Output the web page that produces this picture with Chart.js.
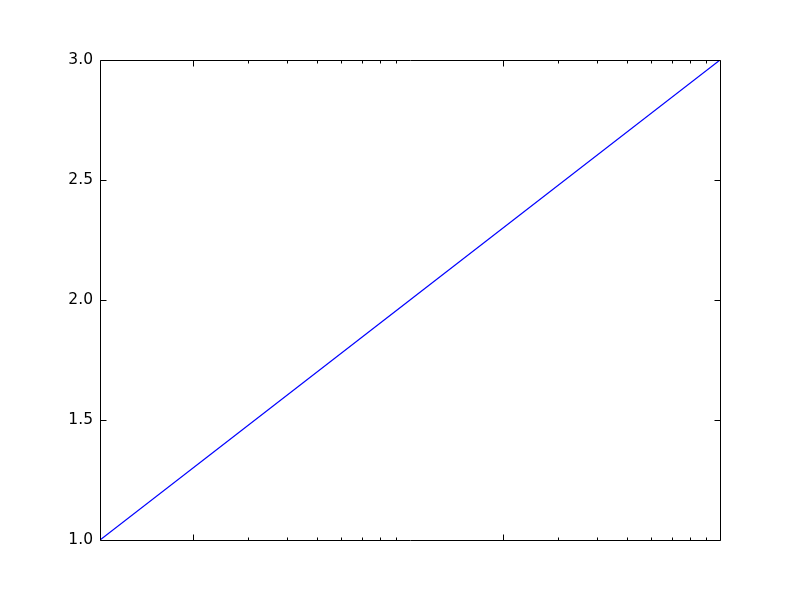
<!DOCTYPE html>
<html>
<head>
<meta charset="utf-8">
<script src="https://cdn.jsdelivr.net/npm/chart.js@4"></script>
<style>
html,body{margin:0;padding:0;background:#fff;}
canvas{display:block;}
</style>
</head>
<body>
<canvas id="c" width="800" height="600"></canvas>
<script>
// data
const xValues = [0.5, 5, 50];
const yValues = [1.0, 2.0, 3.0];
// axis tick positions
const yTickValues = [1.0, 1.5, 2.0, 2.5, 3.0];
const xMajorTicks = [1, 10];
const xMinorTicks = [1.5, 2, 2.5, 3, 3.5, 4, 4.5, 15, 20, 25, 30, 35, 40, 45];

const points = xValues.map((x, i) => ({x: x, y: yValues[i]}));

const frameTicks = {
  id: 'frameTicks',
  afterDraw(chart) {
    const ctx = chart.ctx;
    const a = chart.chartArea;
    const xs = chart.scales.x, ys = chart.scales.y;
    ctx.save();
    ctx.strokeStyle = '#000';
    ctx.lineWidth = 1;
    ctx.beginPath();
    const L = Math.round(a.left) + 0.5, R = Math.round(a.right) + 0.5;
    const T = Math.round(a.top) + 0.5, B = Math.round(a.bottom) + 0.5;
    ctx.rect(L, T, R - L, B - T);
    const vt = (v, len) => {
      const p = Math.round(xs.getPixelForValue(v)) + 0.5;
      ctx.moveTo(p, B); ctx.lineTo(p, B - len);
      ctx.moveTo(p, T); ctx.lineTo(p, T + len);
    };
    xMajorTicks.forEach(v => vt(v, 6));
    xMinorTicks.forEach(v => vt(v, 3));
    yTickValues.forEach(v => {
      const p = Math.round(ys.getPixelForValue(v)) + 0.5;
      ctx.moveTo(L, p); ctx.lineTo(L + 6, p);
      ctx.moveTo(R, p); ctx.lineTo(R - 6, p);
    });
    ctx.stroke();
    ctx.restore();
  }
};

new Chart(document.getElementById('c'), {
  type: 'line',
  data: {
    datasets: [{
      data: points,
      borderColor: '#0000ff',
      borderWidth: 1.2,
      pointRadius: 0,
      fill: false,
      tension: 0
    }]
  },
  options: {
    responsive: false,
    animation: false,
    devicePixelRatio: 1,
    layout: {padding: {left: 0, top: 60, right: 80, bottom: 0}},
    plugins: {legend: {display: false}, tooltip: {enabled: false}},
    scales: {
      x: {
        type: 'logarithmic',
        min: 0.5,
        max: 50,
        grid: {display: false, drawTicks: false},
        border: {display: false},
        ticks: {display: false},
        afterFit: s => { s.height = 60; }
      },
      y: {
        type: 'linear',
        min: 1,
        max: 3,
        grid: {display: false, drawTicks: false},
        border: {display: false},
        afterBuildTicks: s => { s.ticks = yTickValues.map(v => ({value: v})); },
        ticks: {
          color: '#000',
          padding: 7,
          font: {family: 'DejaVu Sans', size: 15.5},
          callback: v => Number(v).toFixed(1)
        },
        afterFit: s => { s.width = 100; }
      }
    }
  },
  plugins: [frameTicks]
});
</script>
</body>
</html>
